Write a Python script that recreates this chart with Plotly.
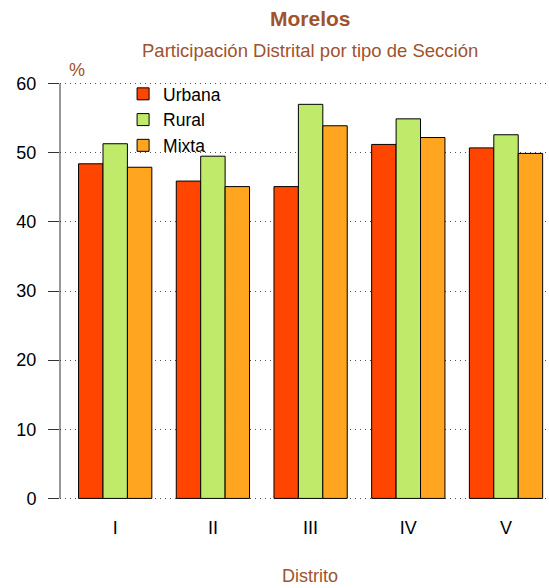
import plotly.graph_objects as go

# Data
distritos = ['I', 'II', 'III', 'IV', 'V']
urbana = [48.4, 45.9, 45.1, 51.2, 50.7]
rural = [51.3, 49.5, 57.0, 54.9, 52.6]
mixta = [47.9, 45.1, 53.9, 52.2, 49.9]

series = [('Urbana', urbana, '#FF4500'),
          ('Rural', rural, '#BFEA6A'),
          ('Mixta', mixta, '#FFA520')]

brown = '#A0522D'
font_family = 'Liberation Sans, Arial, sans-serif'

fig = go.Figure()
for name, vals, color in series:
    fig.add_trace(go.Bar(x=distritos, y=vals, name=name,
                         marker=dict(color=color, line=dict(color='black', width=1))))

fig.update_layout(
    width=549, height=588,
    margin=dict(l=60, r=0, t=67, b=73),
    plot_bgcolor='white', paper_bgcolor='white',
    barmode='group', bargap=0.25, bargroupgap=0,
    font=dict(family=font_family, size=18, color='black'),
    showlegend=True,
    legend=dict(x=0.129, y=0.98, xanchor='left', yanchor='top',
                bgcolor='rgba(0,0,0,0)', font=dict(size=17.5),
                tracegroupgap=0, itemwidth=30),
)

fig.update_xaxes(range=[-0.565, 4.44], showgrid=False, showline=False,
                 ticks='', zeroline=False, tickfont=dict(size=18))
fig.update_yaxes(range=[-2.4, 62.4], tickvals=[0, 10, 20, 30, 40, 50, 60],
                 showgrid=True, gridcolor='#555555', griddash='1px,4px', gridwidth=1,
                 zeroline=False, showline=False, ticks='outside', ticklen=11,
                 tickcolor='#333333', tickfont=dict(size=18), ticklabelstandoff=8)

# y axis line spanning only the tick range (R style)
fig.add_shape(type='line', xref='paper', yref='y', x0=0, x1=0, y0=0, y1=60,
              line=dict(color='#333333', width=1))

fig.add_annotation(text='<b>Morelos</b>', xref='paper', yref='paper',
                   x=0.512, y=1, yshift=49, showarrow=False, xanchor='center', yanchor='middle',
                   font=dict(size=21, color=brown))
fig.add_annotation(text='Participación Distrital por tipo de Sección', xref='paper', yref='paper',
                   x=0.512, y=1, yshift=17, showarrow=False, xanchor='center', yanchor='middle',
                   font=dict(size=18.5, color=brown))
fig.add_annotation(text='%', xref='paper', yref='paper',
                   x=0.035, y=1, yshift=-3, showarrow=False, xanchor='center', yanchor='middle',
                   font=dict(size=18, color=brown))
fig.add_annotation(text='Distrito', xref='paper', yref='paper',
                   x=0.512, y=0, yshift=-61, showarrow=False, xanchor='center', yanchor='middle',
                   font=dict(size=18, color=brown))

# drop the default 8px body margin so the figure fills the window
fig.write_html('out.html', config={'displayModeBar': False},
               post_script="document.body.style.margin='0';")
